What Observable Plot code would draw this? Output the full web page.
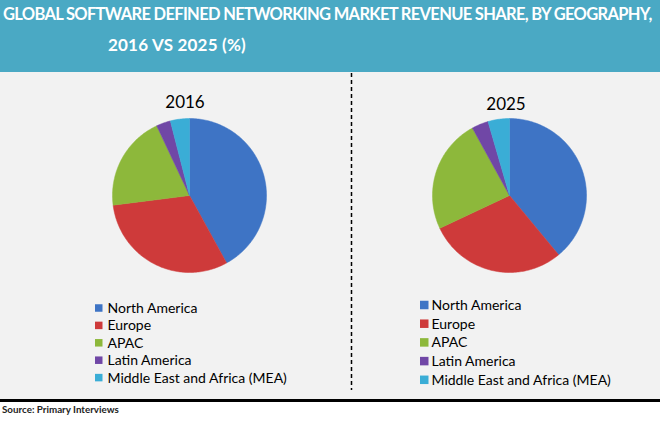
<!DOCTYPE html>
<html>
<head>
<meta charset="utf-8">
<script src="https://cdn.jsdelivr.net/npm/d3@7"></script>
<script src="https://cdn.jsdelivr.net/npm/@observablehq/plot@0.6"></script>
<style>
  html, body { margin: 0; padding: 0; background: #ffffff; }
  #page { width: 660px; height: 434px; position: relative; overflow: hidden; font-family: Lato, "Open Sans", sans-serif; }
  #header { position: absolute; left: 0; top: 0; width: 660px; height: 72px; background: #4AA9C4; color: #ffffff; font-weight: bold; }
  #header .l1 { position: absolute; left: 3px; top: 4px; font-size: 16.5px; letter-spacing: -0.68px; white-space: nowrap; }
  #header .l2 { position: absolute; left: 108px; top: 34px; font-size: 17px; letter-spacing: 0.2px; white-space: nowrap; }
  #chart { position: absolute; left: 0; top: 72px; }
  #rule { position: absolute; left: 0; top: 399px; width: 660px; height: 3px; background: #000000; }
  #source { position: absolute; left: 2px; top: 403px; font-size: 9.8px; font-weight: bold; color: #222; white-space: nowrap; }
</style>
</head>
<body>
<div id="page">
  <div id="header">
    <div class="l1">GLOBAL SOFTWARE DEFINED NETWORKING MARKET REVENUE SHARE, BY GEOGRAPHY,</div>
    <div class="l2">2016 VS 2025 (%)</div>
  </div>
  <div id="chart"></div>
  <div id="rule"></div>
  <div id="source">Source: Primary Interviews</div>
</div>
<script>
// ---- data ----
const categories = ["North America", "Europe", "APAC", "Latin America", "Middle East and Africa (MEA)"];
const years = ["2016", "2025"];
const share2016 = [42, 31, 20, 3, 4];
const share2025 = [39, 29, 24, 3.5, 4.5];
const colors = ["#3E74C5", "#CE3A3A", "#8DB83B", "#7047A6", "#3AADD6"];

// ---- layout (pixel units of the plot area) ----
const W = 660, H = 327;
const layout = [
  {year: "2016", values: share2016, cx: 189, cy: 123, r: 77, titleX: 184.5, titleY: 30, legX: 95, legTextX: 107, legY: 236, legDy: 17.4, sq: 7.5},
  {year: "2025", values: share2025, cx: 509, cy: 123, r: 77, titleX: 505.5, titleY: 32, legX: 420, legTextX: 431, legY: 233, legDy: 18.7, sq: 8.5}
];

// slice polygons from d3.pie
const slices = [];
for (const L of layout) {
  const arcs = d3.pie().sort(null)(L.values);
  arcs.forEach((a, i) => {
    const key = L.year + "-" + i;
    const pts = [{x: L.cx, y: L.cy}];
    const n = Math.max(2, Math.ceil((a.endAngle - a.startAngle) / (Math.PI / 180)));
    for (let k = 0; k <= n; k++) {
      const t = a.startAngle + (a.endAngle - a.startAngle) * k / n;
      pts.push({x: L.cx + L.r * Math.sin(t), y: L.cy - L.r * Math.cos(t)});
    }
    pts.push({x: L.cx, y: L.cy});
    for (const p of pts) slices.push({...p, key, region: categories[i]});
  });
}

const titles = layout.map(L => ({x: L.titleX, y: L.titleY, text: L.year}));
const legendRows = [];
for (const L of layout) {
  categories.forEach((c, i) => {
    const yc = L.legY + i * L.legDy;
    legendRows.push({region: c, x1: L.legX, x2: L.legX + L.sq, y1: yc - L.sq / 2, y2: yc + L.sq / 2, tx: L.legTextX, ty: yc});
  });
}

const chart = Plot.plot({
  width: W,
  height: H,
  margin: 0,
  x: {domain: [0, W], range: [0, W], axis: null},
  y: {domain: [0, H], range: [0, H], axis: null},
  color: {domain: categories, range: colors},
  style: {background: "#F2F2F2", fontFamily: "Lato, 'Open Sans', sans-serif", color: "#000"},
  marks: [
    Plot.ruleX([351], {y1: 1, y2: 318, stroke: "#000", strokeWidth: 1.5, strokeDasharray: "4,3"}),
    Plot.line(slices, {x: "x", y: "y", z: "key", fill: "region", stroke: "region", strokeWidth: 0.5, curve: "linear"}),
    Plot.text(titles, {x: "x", y: "y", text: "text", fontSize: 17, fill: "#000"}),
    Plot.rect(legendRows, {x1: "x1", x2: "x2", y1: "y1", y2: "y2", fill: "region"}),
    Plot.text(legendRows, {x: "tx", y: "ty", text: "region", textAnchor: "start", fontSize: 14, fill: "#000"})
  ]
});
document.getElementById("chart").appendChild(chart);
</script>
</body>
</html>
